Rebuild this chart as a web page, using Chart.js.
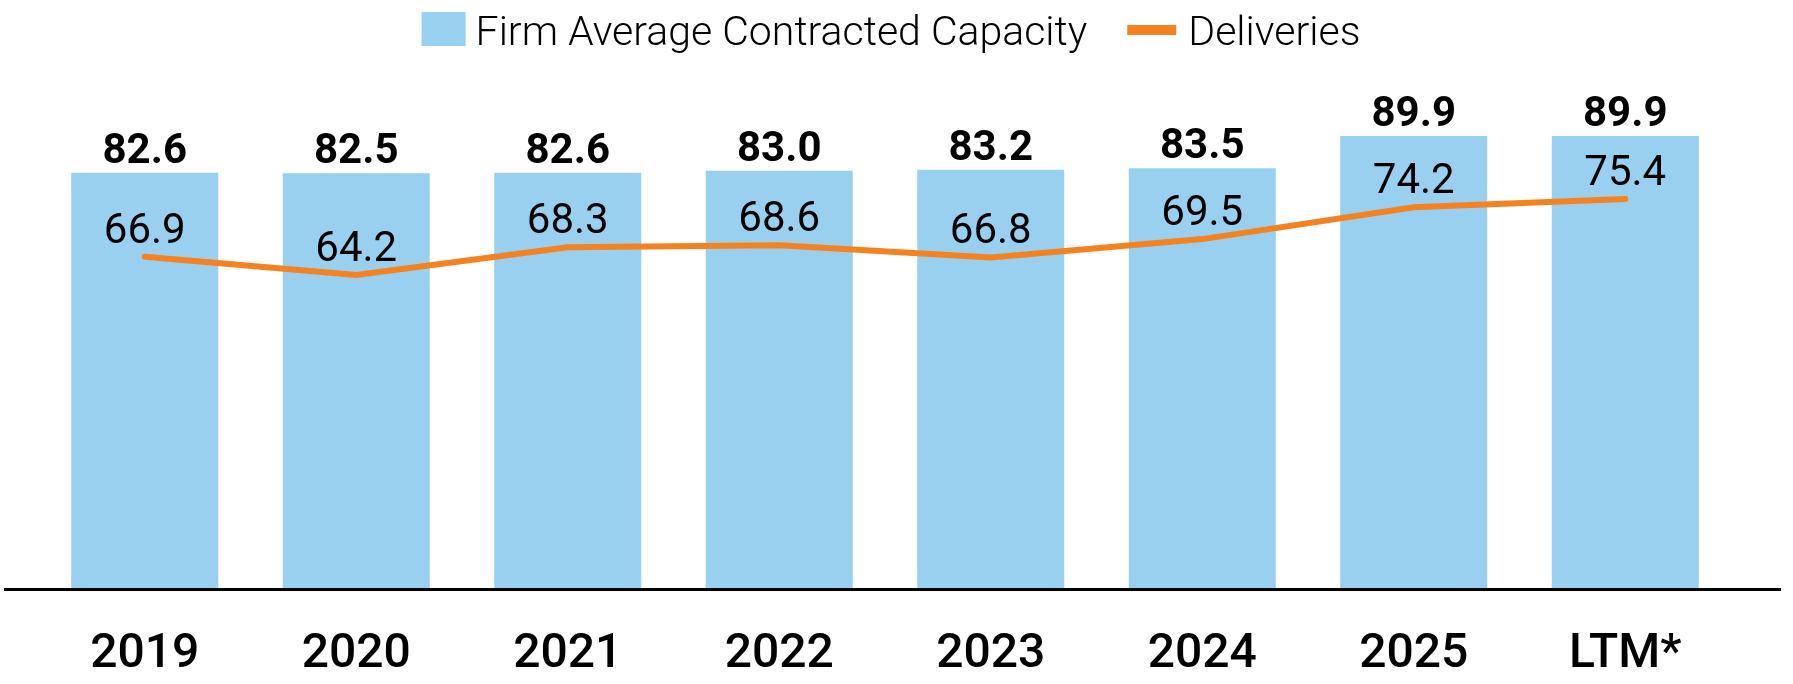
<!DOCTYPE html>
<html>
<head>
<meta charset="utf-8">
<script src="https://cdn.jsdelivr.net/npm/chart.js@4.4.1/dist/chart.umd.min.js"></script>
<style>
  html, body { margin: 0; padding: 0; background: #fff; }
  #wrap { width: 1793px; height: 684px; }
</style>
</head>
<body>
<div id="wrap"><canvas id="chart"></canvas></div>
<script>
// data
const years = ["2019", "2020", "2021", "2022", "2023", "2024", "2025", "LTM*"];
const capacity = [82.6, 82.5, 82.6, 83.0, 83.2, 83.5, 89.9, 89.9];
const deliveries = [66.9, 64.2, 68.3, 68.6, 66.8, 69.5, 74.2, 75.4];

const BLUE = "#99D0F0";
const ORANGE = "#F58220";

// labels, baseline and legend drawn on top of the datasets
const extras = {
  id: "extras",
  afterDatasetsDraw(chart) {
    const ctx = chart.ctx;
    ctx.save();

    // axis line, runs wider than the plot area
    const y0 = chart.scales.y.getPixelForValue(0);
    ctx.strokeStyle = "#000";
    ctx.lineWidth = 3;
    ctx.beginPath();
    ctx.moveTo(4, y0);
    ctx.lineTo(1781, y0);
    ctx.stroke();

    ctx.textAlign = "center";
    ctx.textBaseline = "alphabetic";
    ctx.fillStyle = "#000";

    // bar values
    ctx.font = "bold 42px Roboto";
    chart.getDatasetMeta(0).data.forEach((el, i) => {
      ctx.fillText(capacity[i].toFixed(1), el.x, el.y - 10);
    });

    // line values
    ctx.font = "42px Roboto";
    chart.getDatasetMeta(1).data.forEach((el, i) => {
      ctx.fillText(deliveries[i].toFixed(1), el.x, el.y - 14);
    });

    // legend
    ctx.font = "300 41px Roboto";
    ctx.textAlign = "left";
    const t1 = chart.data.datasets[0].label;
    const t2 = chart.data.datasets[1].label;
    const w1 = ctx.measureText(t1).width;
    const w2 = ctx.measureText(t2).width;
    const total = 44 + 10 + w1 + 40 + 49 + 12 + w2;
    let x = 891 - total / 2;
    ctx.fillStyle = BLUE;
    ctx.fillRect(x, 12, 44, 34);
    x += 54;
    ctx.fillStyle = "#000";
    ctx.fillText(t1, x, 45);
    x += w1 + 40;
    ctx.fillStyle = ORANGE;
    ctx.fillRect(x, 25, 49, 10);
    x += 61;
    ctx.fillStyle = "#000";
    ctx.fillText(t2, x, 45);

    ctx.restore();
  }
};

new Chart(document.getElementById("chart"), {
  type: "bar",
  data: {
    labels: years,
    datasets: [
      {
        label: "Firm Average Contracted Capacity",
        data: capacity,
        backgroundColor: BLUE,
        categoryPercentage: 1,
        barPercentage: 0.695,
        yAxisID: "y",
        order: 2
      },
      {
        type: "line",
        label: "Deliveries",
        data: deliveries,
        borderColor: ORANGE,
        backgroundColor: ORANGE,
        borderWidth: 6,
        borderCapStyle: "round",
        pointRadius: 0,
        tension: 0,
        yAxisID: "y1",
        order: 1
      }
    ]
  },
  options: {
    responsive: true,
    maintainAspectRatio: false,
    animation: false,
    layout: { padding: { top: 85, left: 39, right: 62, bottom: -37 } },
    plugins: {
      legend: { display: false },
      tooltip: { enabled: false }
    },
    scales: {
      x: {
        grid: { display: false, drawTicks: false },
        border: { display: false },
        ticks: {
          color: "#000",
          padding: 37,
          font: { family: "Roboto", size: 48, weight: "500" }
        }
      },
      y: { display: false, min: 0, max: 100 },
      y1: { display: false, min: 17.9, max: 92.2 }
    }
  },
  plugins: [extras]
});
</script>
</body>
</html>
